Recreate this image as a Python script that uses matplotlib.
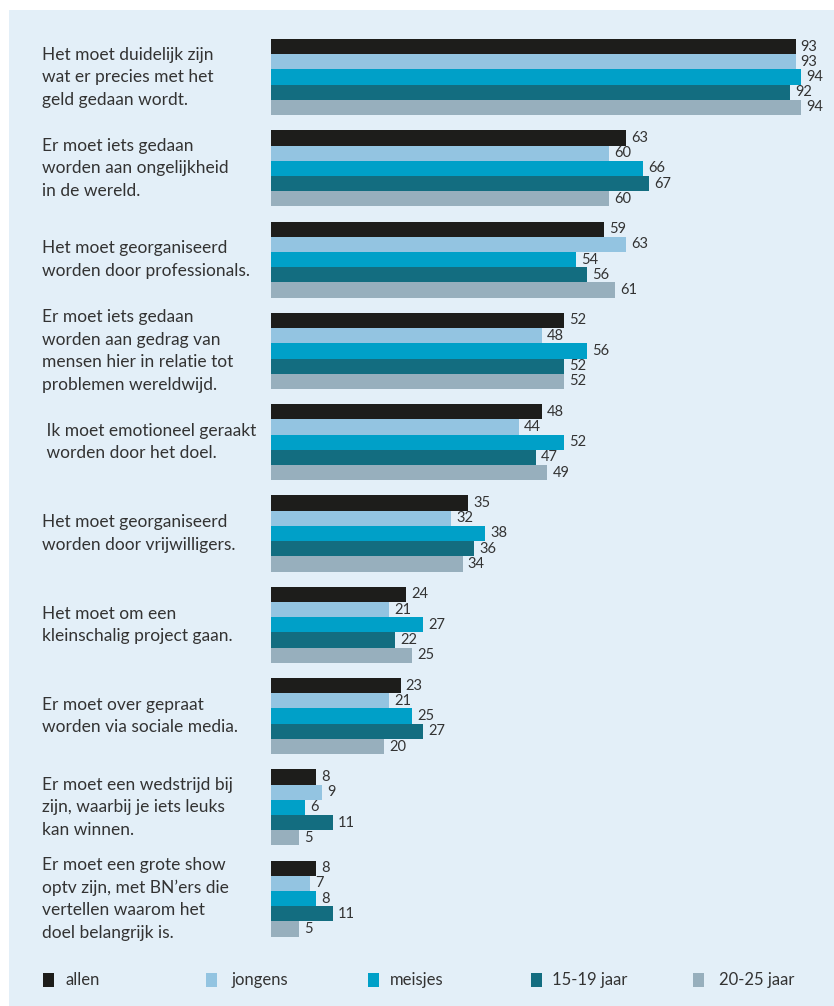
import numpy as np
import matplotlib.pyplot as plt
from matplotlib.patches import Rectangle
from matplotlib.transforms import blended_transform_factory

plt.rcParams['font.family'] = ['Lato', 'DejaVu Sans']

# statements (top to bottom)
labels = [
    "Het moet duidelijk zijn\nwat er precies met het\ngeld gedaan wordt.",
    "Er moet iets gedaan\nworden aan ongelijkheid\nin de wereld.",
    "Het moet georganiseerd\nworden door professionals.",
    "Er moet iets gedaan\nworden aan gedrag van\nmensen hier in relatie tot\nproblemen wereldwijd.",
    " Ik moet emotioneel geraakt\n worden door het doel.",
    "Het moet georganiseerd\nworden door vrijwilligers.",
    "Het moet om een\nkleinschalig project gaan.",
    "Er moet over gepraat\nworden via sociale media.",
    "Er moet een wedstrijd bij\nzijn, waarbij je iets leuks\nkan winnen.",
    "Er moet een grote show\noptv zijn, met BN\u2019ers die\nvertellen waarom het\ndoel belangrijk is.",
]

groups = ["allen", "jongens", "meisjes", "15-19 jaar", "20-25 jaar"]
allen   = [93, 63, 59, 52, 48, 35, 24, 23, 8, 8]
jongens = [93, 60, 63, 48, 44, 32, 21, 21, 9, 7]
meisjes = [94, 66, 54, 56, 52, 38, 27, 25, 6, 8]
age1519 = [92, 67, 56, 52, 47, 36, 22, 27, 11, 11]
age2025 = [94, 60, 61, 52, 49, 34, 25, 20, 5, 5]
series = [allen, jongens, meisjes, age1519, age2025]

colors = ["#1d1d1b", "#93c4e1", "#00a0c8", "#136d80", "#97afbd"]
bg = "#e3eff8"
txt = "#333333"

W, H = 834, 1006
fig = plt.figure(figsize=(W / 100, H / 100), dpi=100)
fig.patch.set_facecolor("white")
fig.patches.append(Rectangle((9 / W, 0), 825 / W, (H - 10) / H,
                             transform=fig.transFigure, facecolor=bg,
                             edgecolor="none", zorder=-1))

# axes: x in percent (0 at 271px, 5.64 px per unit), y in bar slots
top, bottom = 39, 936.7
ax = fig.add_axes([271 / W, (H - bottom) / H, 564 / W, (bottom - top) / H])
ax.set_xlim(0, 100)
ax.set_ylim(59, 0)
ax.axis("off")
ax.patch.set_alpha(0)

for j, (vals, c) in enumerate(zip(series, colors)):
    ys = np.arange(len(vals)) * 6 + j
    ax.barh(ys, vals, height=1.0, align="edge", color=c, edgecolor="none")
    for y, v in zip(ys, vals):
        ax.text(v + 0.9, y + 0.5, str(v), va="center", ha="left",
                fontsize=10.5, color=txt, clip_on=False)

tr = blended_transform_factory(fig.transFigure, ax.transData)
for i, lab in enumerate(labels):
    ax.text(42 / W, i * 6 + 2.5, lab, transform=tr, ha="left", va="center",
            fontsize=12.5, color=txt, linespacing=1.5)

# legend
for k, (g, c) in enumerate(zip(groups, colors)):
    x0 = 43 + 162.5 * k
    fig.patches.append(Rectangle((x0 / W, (H - 987) / H), 11 / W, 14 / H,
                                 transform=fig.transFigure, facecolor=c,
                                 edgecolor="none"))
    fig.text((x0 + 22 + (4 if k in (1, 4) else 0)) / W, (H - 980) / H, g,
             ha="left", va="center", fontsize=12, color=txt)

fig.savefig("out.png", dpi=100, facecolor="white")
